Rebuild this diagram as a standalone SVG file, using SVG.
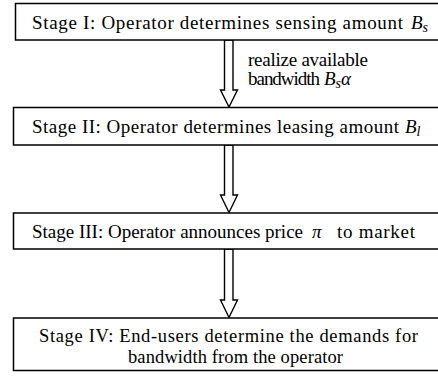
<svg xmlns="http://www.w3.org/2000/svg" width="438" height="376" viewBox="0 0 438 376">
<style>
.box{fill:#fff;stroke:#000;stroke-width:1.5}
.arr{fill:#fff;stroke:#000;stroke-width:1.4;stroke-linejoin:miter}
.t{font-family:'Liberation Serif','Times New Roman',Times,serif;font-size:19px;fill:#000}
.s4{font-size:18.5px}
.m{font-style:italic}
.sub{font-size:14px;font-style:italic}
</style>
<rect width="438" height="376" fill="#fff"/>
<g id="connectors">
<polygon class="arr" points="224.5,40 233,40 233,90 237.5,90 229,107 220.5,90 224.5,90"/>
<polygon class="arr" points="224.5,145 233,145 233,195 237.5,195 229,212.5 220.5,195 224.5,195"/>
<polygon class="arr" points="224.5,249 233,249 233,300 237.5,300 229,317.5 220.5,300 224.5,300"/>
<text class="t" x="248" y="66" textLength="120">realize available</text>
<text class="t" x="248" y="85" textLength="72">bandwidth</text>
<text class="t" x="324" y="85"><tspan class="m">B</tspan><tspan class="sub" dy="3">s</tspan><tspan class="m" dy="-3">α</tspan></text>
</g>
<g id="stage1">
<rect class="box" x="15.5" y="3.5" width="430" height="36.5"/>
<text class="t" x="32" y="28.5" textLength="371">Stage I: Operator determines sensing amount</text>
<text class="t" x="411" y="28.5"><tspan class="m">B</tspan><tspan class="sub" dy="3">s</tspan></text>
</g>
<g id="stage2">
<rect class="box" x="13.5" y="107.5" width="432" height="37.5"/>
<text class="t" x="32" y="133" textLength="367">Stage II: Operator determines leasing amount</text>
<text class="t" x="405" y="133"><tspan class="m">B</tspan><tspan class="sub" dy="3">l</tspan></text>
</g>
<g id="stage3">
<rect class="box" x="13.5" y="213" width="432" height="36"/>
<text class="t" x="32" y="238" textLength="271">Stage III: Operator announces price</text>
<text class="t m" x="312" y="238">π</text>
<text class="t" x="337" y="238" textLength="78">to market</text>
</g>
<g id="stage4">
<rect class="box" x="13.5" y="318" width="432" height="52.5"/>
<text class="t s4" x="39" y="342" textLength="379">Stage IV: End-users determine the demands for</text>
<text class="t s4" x="128" y="362.5" textLength="215">bandwidth from the operator</text>
</g>
</svg>
